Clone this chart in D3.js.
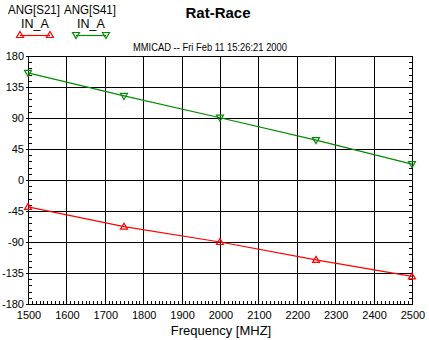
<!DOCTYPE html>
<html>
<head>
<meta charset="utf-8">
<script src="https://cdn.jsdelivr.net/npm/d3@7"></script>
<style>
  body { margin: 0; background: #fff; }
  text { font-family: "Liberation Sans", Arial, sans-serif; }
</style>
</head>
<body>
<div id="chart"></div>
<script>
const freq = [1500, 1750, 2000, 2250, 2500];
const s21 = [-39, -67.8, -90, -116, -140];
const s41 = [155.5, 122, 90.4, 58, 23];
const xTicks = [1500, 1600, 1700, 1800, 1900, 2000, 2100, 2200, 2300, 2400, 2500];
const yTicks = [-180, -135, -90, -45, 0, 45, 90, 135, 180];
const seriesNames = ["ANG[S21]", "ANG[S41]"];
const seriesColors = ["#ff0000", "#008c00"];

const W = 429, H = 340;
const margin = {top: 56, right: 17, bottom: 36, left: 28},
    width = W - margin.left - margin.right,
    height = H - margin.top - margin.bottom;

const root = d3.select("#chart").append("svg")
    .attr("width", W).attr("height", H);

const svg = root.append("g")
    .attr("transform", `translate(${margin.left},${margin.top})`);

const x = d3.scaleLinear().domain([1500, 2500]).range([0, width]);
const y = d3.scaleLinear().domain([-180, 180]).range([height, 0]);

const px = v => Math.round(v) + 0.5;

// grid
const grid = svg.append("g").attr("shape-rendering", "crispEdges");
grid.append("g").selectAll("line").data(xTicks).join("line")
    .attr("x1", d => px(x(d))).attr("x2", d => px(x(d)))
    .attr("y1", 0).attr("y2", height + 1)
    .attr("stroke", "#000");
grid.append("g").selectAll("line").data(yTicks).join("line")
    .attr("x1", -2).attr("x2", width + 1)
    .attr("y1", d => px(y(d))).attr("y2", d => px(y(d)))
    .attr("stroke", "#000");

// minor ticks (inward)
const xMinor = d3.range(1500, 2501, 10);
const yMinor = d3.range(-180, 181, 9);
grid.append("g").selectAll("line").data(xMinor).join("line")
    .attr("x1", d => px(x(d))).attr("x2", d => px(x(d)))
    .attr("y1", height).attr("y2", height - 3)
    .attr("stroke", "#000");
grid.append("g").selectAll("line").data(yMinor).join("line")
    .attr("x1", 0).attr("x2", 4)
    .attr("y1", d => px(y(d))).attr("y2", d => px(y(d)))
    .attr("stroke", "#000");
grid.append("g").selectAll("line").data(yMinor).join("line")
    .attr("x1", width + 1).attr("x2", width - 3)
    .attr("y1", d => px(y(d))).attr("y2", d => px(y(d)))
    .attr("stroke", "#000");

// tick labels
svg.append("g").selectAll("text").data(yTicks).join("text")
    .attr("x", -4).attr("y", d => y(d) + 4)
    .attr("text-anchor", "end").attr("font-size", 11)
    .text(d => d);
svg.append("g").selectAll("text").data(xTicks).join("text")
    .attr("x", d => x(d) + 1).attr("y", height + 15)
    .attr("text-anchor", "middle").attr("font-size", 11)
    .text(d => d);

root.append("text").attr("x", 221).attr("y", 335)
    .attr("text-anchor", "middle").attr("font-size", 13)
    .text("Frequency [MHZ]");
root.append("text").attr("x", 218).attr("y", 18)
    .attr("text-anchor", "middle").attr("font-size", 15).attr("font-weight", "bold")
    .text("Rat-Race");
root.append("text").attr("x", 210).attr("y", 51)
    .attr("text-anchor", "middle").attr("font-size", 11)
    .attr("textLength", 154).attr("lengthAdjust", "spacingAndGlyphs")
    .text("MMICAD -- Fri Feb 11 15:26:21 2000");

// series
const line = d3.line().x(d => x(d[0])).y(d => y(d[1]));
const tri = (up) => up ? "M0,-3.5L3.5,2.5L-3.5,2.5Z" : "M0,3.5L3.5,-2.5L-3.5,-2.5Z";
[s21, s41].forEach((vals, i) => {
  const pts = freq.map((f, j) => [f, vals[j]]);
  svg.append("path").datum(pts)
    .attr("fill", "none").attr("stroke", seriesColors[i]).attr("stroke-width", 1.2)
    .attr("d", line);
  svg.append("g").selectAll("path").data(pts).join("path")
    .attr("transform", d => `translate(${x(d[0])},${y(d[1])})`)
    .attr("d", tri(i === 0))
    .attr("fill", "none").attr("stroke", seriesColors[i]).attr("stroke-width", 1.2);
});

// legend
const legX = [34, 90];
seriesNames.forEach((n, i) => {
  const g = root.append("g");
  g.append("text").attr("x", legX[i]).attr("y", 14)
    .attr("text-anchor", "middle").attr("font-size", 12.5)
    .attr("textLength", 52).attr("lengthAdjust", "spacingAndGlyphs").text(n);
  g.append("text").attr("x", legX[i] + 1).attr("y", 28)
    .attr("text-anchor", "middle").attr("font-size", 12.5).text("IN_A");
  g.append("line").attr("x1", legX[i] - 14).attr("x2", legX[i] + 16)
    .attr("y1", 35.5).attr("y2", 35.5)
    .attr("stroke", seriesColors[i]).attr("stroke-width", 1.2);
  [legX[i] - 14, legX[i] + 16].forEach(p => {
    g.append("path").attr("transform", `translate(${p},${35})`)
      .attr("d", tri(i === 0))
      .attr("fill", "none").attr("stroke", seriesColors[i]).attr("stroke-width", 1.2);
  });
});
</script>
</body>
</html>
